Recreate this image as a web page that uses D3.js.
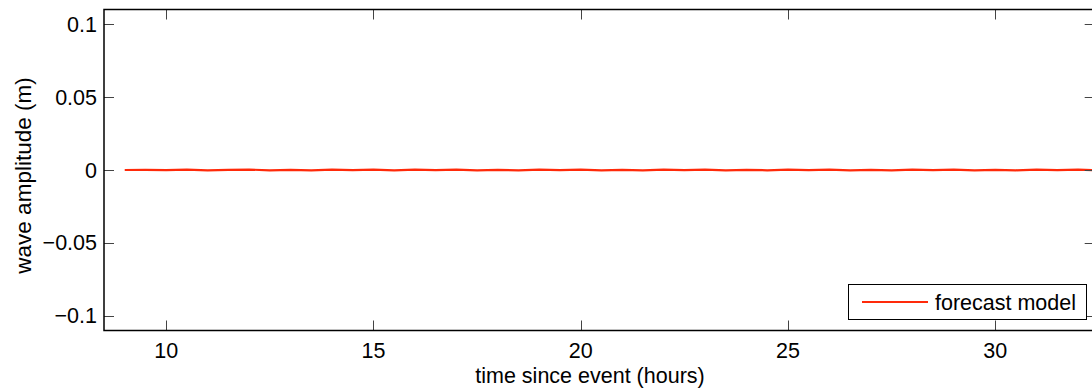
<!DOCTYPE html>
<html><head><meta charset="utf-8">
<script src="https://cdn.jsdelivr.net/npm/d3@7"></script>
<style>html,body{margin:0;padding:0;background:#fff;}svg{display:block;font-family:"Liberation Sans",Arial,Helvetica,sans-serif;}</style>
</head><body>
<script>
const timeHours = [9,9.5,10,10.5,11,11.5,12,12.5,13,13.5,14,14.5,15,15.5,16,16.5,17,17.5,18,18.5,19,19.5,20,20.5,21,21.5,22,22.5,23,23.5,24,24.5,25,25.5,26,26.5,27,27.5,28,28.5,29,29.5,30,30.5,31,31.5,32,32.4];
const amplitude = [0,0.0001,-0.0001,0.0002,-0.0002,0.0001,0.0003,-0.0002,0.0001,-0.0003,0.0002,-0.0001,0.0002,-0.0002,0.0003,-0.0001,0.0002,-0.0003,0.0001,-0.0002,0.0003,-0.0001,0.0002,-0.0002,0.0001,-0.0003,0.0002,-0.0001,0.0003,-0.0002,0.0001,-0.0002,0.0002,-0.0001,0.0003,-0.0002,0.0001,-0.0003,0.0002,-0.0001,0.0002,-0.0002,0.0001,-0.0002,0.0003,-0.0001,0.0002,-0.0001];
const xTicks = [10,15,20,25,30];
const yTicks = [-0.1,-0.05,0,0.05,0.1];
const yTickLabels = ["\u22120.1","\u22120.05","0","0.05","0.1"];
const seriesName = "forecast model";
const xTitle = "time since event (hours)";
const yTitle = "wave amplitude (m)";

const W = 1092, H = 389;
const L = 104, T = 9.5, B = 330.5, R = 1094.7;
const svg = d3.select("body").append("svg").attr("width", W).attr("height", H);
const x = d3.scaleLinear().domain([8.5, 32.4]).range([L, R]);
const y = d3.scaleLinear().domain([-0.11, 0.11]).range([B, T]);
const fs = 21.5;
const lineColor = "#ff2a0a";

// data line
svg.append("path")
  .datum(timeHours.map((t,i)=>[t, amplitude[i]]))
  .attr("fill","none").attr("stroke",lineColor).attr("stroke-width",2.2)
  .attr("d", d3.line().x(d=>x(d[0])).y(d=>y(d[1])));

// ticks
const tickLen = 10;
const tg = svg.append("g").attr("stroke","#444").attr("stroke-width",1);
xTicks.forEach(v=>{
  const px = Math.round(x(v))+0.5;
  tg.append("line").attr("x1",px).attr("x2",px).attr("y1",B).attr("y2",B-tickLen);
  tg.append("line").attr("x1",px).attr("x2",px).attr("y1",T).attr("y2",T+tickLen);
});
yTicks.forEach(v=>{
  const py = Math.round(y(v))+0.5;
  tg.append("line").attr("x1",L).attr("x2",L+tickLen).attr("y1",py).attr("y2",py);
  tg.append("line").attr("x1",R).attr("x2",R-tickLen).attr("y1",py).attr("y2",py);
});

// frame
svg.append("rect").attr("x",L).attr("y",T).attr("width",R-L).attr("height",B-T)
  .attr("fill","none").attr("stroke","#000").attr("stroke-width",1.5);

// tick labels
svg.append("g").selectAll("text").data(xTicks).join("text")
  .attr("x",d=>x(d)).attr("y",357.5).attr("text-anchor","middle")
  .attr("font-size",fs).attr("fill","#000").text(d=>d);
svg.append("g").selectAll("text").data(yTicks).join("text")
  .attr("x",97).attr("y",d=>y(d)+7.5).attr("text-anchor","end")
  .attr("font-size",fs).attr("fill","#000").text((d,i)=>yTickLabels[i]);

// axis titles
svg.append("text").attr("x",590).attr("y",382.5).attr("text-anchor","middle")
  .attr("font-size",fs).attr("fill","#000").text(xTitle);
svg.append("text").attr("transform","translate(31,175.5) rotate(-90)").attr("text-anchor","middle")
  .attr("font-size",22.5).attr("fill","#000").text(yTitle);

// legend
const lg = svg.append("g");
lg.append("rect").attr("x",848.5).attr("y",284.5).attr("width",238).attr("height",35)
  .attr("fill","#fff").attr("stroke","#000").attr("stroke-width",1);
lg.append("line").attr("x1",862).attr("x2",928).attr("y1",302).attr("y2",302)
  .attr("stroke",lineColor).attr("stroke-width",2);
lg.append("text").attr("x",935).attr("y",309.5).attr("font-size",fs).attr("fill","#000").text(seriesName);
</script>
</body></html>
